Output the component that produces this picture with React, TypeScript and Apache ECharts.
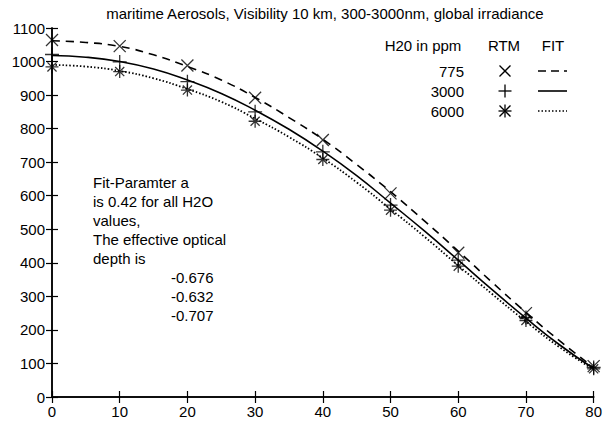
import React, { useEffect, useRef } from "react";
import * as echarts from "echarts";

const titleText = "maritime Aerosols, Visibility 10 km, 300-3000nm, global irradiance";
const rtmX = [0, 10, 20, 30, 40, 50, 60, 70, 80];
const rtm775 = [1064, 1046, 988, 892, 766, 607, 430, 250, 92];
const rtm3000 = [1021, 999, 940, 850, 731, 572, 408, 237, 88];
const rtm6000 = [984, 970, 915, 822, 708, 557, 390, 228, 84];

const fitX = [0, 5, 10, 15, 20, 25, 30, 35, 40, 45, 50, 55, 60, 65, 70, 75, 80];
const fit775 = [1062, 1057, 1045, 1020, 985, 945, 893, 833, 768, 693, 612, 525, 435, 342, 252, 167, 88];
const fit3000 = [1018, 1013, 1000, 978, 945, 905, 855, 798, 733, 660, 578, 495, 408, 320, 235, 155, 85];
const fit6000 = [990, 985, 972, 950, 918, 880, 830, 775, 712, 640, 560, 478, 392, 307, 225, 148, 82];

const legendLabels = ["775", "3000", "6000"];
const noteLines = [
  "Fit-Paramter a",
  "is 0.42 for all H2O",
  "values,",
  "The effective optical",
  "depth is",
];
const tauValues = ["-0.676", "-0.632", "-0.707"];

const FONT = "'Liberation Sans', Arial, Helvetica, sans-serif";
const SYM_X = "path://M0,0L10,10M10,0L0,10";
const SYM_PLUS = "path://M5,0L5,10M0,5L10,5";
const SYM_STAR = "path://M5,0L5,10M0,5L10,5M1.5,1.5L8.5,8.5M8.5,1.5L1.5,8.5";

function pairs(xs: number[], ys: number[]) {
  return xs.map((x, i) => [x, ys[i]]);
}

export default function App() {
  const ref = useRef<HTMLDivElement>(null);
  useEffect(() => {
    document.body.style.margin = "0";
    const chart = echarts.init(ref.current!, null, { renderer: "svg" });
    const axisLine = { show: true, lineStyle: { color: "#000", width: 1.5 } };
    const tick = { show: true, inside: true, length: 6, lineStyle: { color: "#000", width: 1.2 } };
    const label = { color: "#000", fontSize: 15, fontFamily: FONT, formatter: (v: number) => String(v) };
    const markerStyle = { color: "rgba(0,0,0,0)", borderColor: "#000", borderWidth: 1.3 };

    const legendRowY = [71, 91, 111];
    const legendSyms: any[] = [];
    legendRowY.forEach((y, i) => {
      legendSyms.push({
        type: "text", x: 464, y, style: { text: legendLabels[i], fill: "#000", font: `15px ${FONT}`, textAlign: "right", textVerticalAlign: "middle" },
      });
      const cx = 505, r = 5.5;
      const lines: number[][] = [];
      if (i === 0 || i === 2) { lines.push([cx - r, y - r, cx + r, y + r], [cx + r, y - r, cx - r, y + r]); }
      if (i === 1 || i === 2) { lines.push([cx, y - r - 1, cx, y + r + 1], [cx - r - 1, y, cx + r + 1, y]); }
      lines.forEach((l) => legendSyms.push({ type: "line", shape: { x1: l[0], y1: l[1], x2: l[2], y2: l[3] }, style: { stroke: "#000", lineWidth: 1.3 } }));
      const dash = i === 0 ? [8, 5] : i === 1 ? null : [1.5, 2];
      legendSyms.push({ type: "line", shape: { x1: 538, y1: y, x2: 567, y2: y }, style: { stroke: "#000", lineWidth: 1.6, lineDash: dash } });
    });

    const noteEls: any[] = noteLines.map((t, i) => ({
      type: "text", x: 93, y: 182 + i * 19, style: { text: t, fill: "#000", font: `15px ${FONT}`, textVerticalAlign: "middle" },
    }));
    tauValues.forEach((t, i) => noteEls.push({
      type: "text", x: 171, y: 277 + i * 19, style: { text: t, fill: "#000", font: `15px ${FONT}`, textVerticalAlign: "middle" },
    }));

    chart.setOption({
      animation: false,
      backgroundColor: "#fff",
      grid: { left: 52, right: 8, top: 28, bottom: 26, containLabel: false },
      xAxis: [
        { type: "value", min: 0, max: 80, interval: 10, axisLine, axisTick: tick, axisLabel: { ...label, margin: 7 }, splitLine: { show: false } },
        { type: "value", position: "top", min: 0, max: 80, interval: 10, axisLine, axisTick: tick, axisLabel: { show: false }, splitLine: { show: false } },
      ],
      yAxis: [
        { type: "value", min: 0, max: 1100, interval: 100, axisLine, axisTick: tick, axisLabel: { ...label, margin: 7 }, splitLine: { show: false } },
        { type: "value", position: "right", min: 0, max: 1100, interval: 100, axisLine, axisTick: tick, axisLabel: { show: false }, splitLine: { show: false } },
      ],
      graphic: [
        { type: "text", x: 325, y: 13, style: { text: titleText, fill: "#000", font: `15px ${FONT}`, textAlign: "center", textVerticalAlign: "middle" } },
        { type: "text", x: 423, y: 45, style: { text: "H20 in ppm", fill: "#000", font: `15px ${FONT}`, textAlign: "center", textVerticalAlign: "middle" } },
        { type: "text", x: 504, y: 45, style: { text: "RTM", fill: "#000", font: `15px ${FONT}`, textAlign: "center", textVerticalAlign: "middle" } },
        { type: "text", x: 553, y: 45, style: { text: "FIT", fill: "#000", font: `15px ${FONT}`, textAlign: "center", textVerticalAlign: "middle" } },
        ...legendSyms,
        ...noteEls,
      ],
      series: [
        { type: "line", data: pairs(fitX, fit775), smooth: true, symbol: "none", lineStyle: { color: "#000", width: 1.6, type: [8, 6] }, silent: true },
        { type: "line", data: pairs(fitX, fit3000), smooth: true, symbol: "none", lineStyle: { color: "#000", width: 1.6, type: "solid" }, silent: true },
        { type: "line", data: pairs(fitX, fit6000), smooth: true, symbol: "none", lineStyle: { color: "#000", width: 1.8, type: [1.5, 2] }, silent: true },
        { type: "scatter", data: pairs(rtmX, rtm775), symbol: SYM_X, symbolSize: 12, itemStyle: markerStyle, silent: true },
        { type: "scatter", data: pairs(rtmX, rtm3000), symbol: SYM_PLUS, symbolSize: 14, itemStyle: markerStyle, silent: true },
        { type: "scatter", data: pairs(rtmX, rtm6000), symbol: SYM_STAR, symbolSize: 13, itemStyle: markerStyle, silent: true },
      ],
    });
    return () => chart.dispose();
  }, []);
  return <div ref={ref} style={{ width: 605, height: 423 }} />;
}
